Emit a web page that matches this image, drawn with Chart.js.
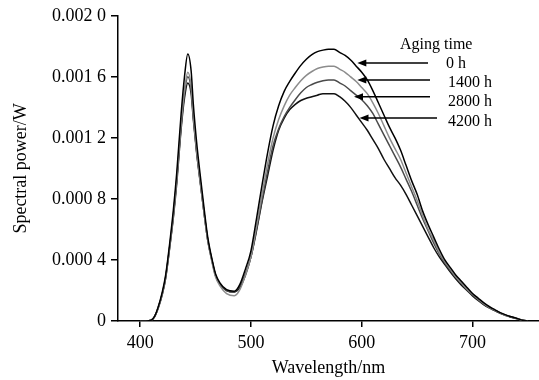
<!DOCTYPE html>
<html>
<head>
<meta charset="utf-8">
<script src="https://cdn.jsdelivr.net/npm/chart.js@4.4.1/dist/chart.umd.min.js"></script>
<style>
  html, body { margin: 0; padding: 0; background: #fff; }
  #wrap { width: 539px; height: 380px; }
</style>
</head>
<body>
<div id="wrap"><canvas id="spectrum" width="539" height="380"></canvas></div>
<script>
// Wavelength grid (nm), denser over the blue peak
const wavelength = [400, 405, 410, 413, 416, 420, 423, 427, 430, 433, 437, 440,
  443, 446, 448, 451, 454, 458, 461, 465, 468, 472, 478, 485,
  490, 495, 500, 505, 510, 515, 520, 525, 530, 535, 540, 545, 550, 555, 560,
  565, 570, 575, 580, 585, 590, 595, 600, 605, 610, 615, 620, 625, 630, 635,
  640, 645, 650, 655, 660, 665, 670, 675, 680, 685, 690, 695, 700, 705, 710,
  715, 720, 725, 730, 735, 740, 745, 750];

// Spectral power, in units of 1e-4 W
const power0h = [0, 0, 0.05, 0.3, 0.85, 1.9, 3.0, 5.3, 7.3, 9.7, 13.6, 16.0,
  17.5, 16.4, 14.2, 11.7, 9.7, 7.2, 5.5, 4.0, 3.1, 2.5, 2.05, 1.95,
  2.4, 3.4, 4.6, 6.7, 8.9, 11.0, 12.8, 14.1, 15.05, 15.7, 16.25, 16.75, 17.15, 17.45, 17.65,
  17.75, 17.8, 17.8, 17.6, 17.4, 17.1, 16.7, 16.3, 15.8, 15.1, 14.3, 13.5, 12.7, 12.0, 11.2,
  10.2, 9.2, 8.3, 7.2, 6.3, 5.5, 4.7, 4.0, 3.5, 3.0, 2.6, 2.2, 1.8, 1.5, 1.2,
  0.95, 0.75, 0.55, 0.4, 0.28, 0.17, 0.05, 0];

const power1400h = [0, 0, 0.05, 0.28, 0.8, 1.8, 2.9, 5.1, 7.0, 9.3, 13.0, 15.1,
  16.3, 15.4, 13.5, 11.2, 9.3, 6.9, 5.3, 3.8, 2.9, 2.3, 1.8, 1.65,
  2.05, 3.0, 4.2, 6.2, 8.3, 10.3, 12.0, 13.2, 14.1, 14.8, 15.3, 15.75, 16.1, 16.35, 16.55,
  16.65, 16.7, 16.7, 16.5, 16.3, 16.0, 15.7, 15.3, 14.9, 14.3, 13.6, 12.8, 12.0, 11.3, 10.6,
  9.7, 8.8, 7.9, 6.9, 6.0, 5.3, 4.5, 3.9, 3.4, 2.9, 2.5, 2.1, 1.75, 1.45, 1.15,
  0.9, 0.72, 0.53, 0.38, 0.27, 0.16, 0.05, 0];

const power2800h = [0, 0, 0.05, 0.28, 0.8, 1.8, 2.85, 5.05, 6.9, 9.2, 12.8, 14.9,
  16.0, 15.2, 13.4, 11.1, 9.3, 6.9, 5.3, 3.9, 3.0, 2.4, 2.0, 1.9,
  2.3, 3.1, 4.2, 6.0, 7.9, 9.8, 11.5, 12.6, 13.4, 14.0, 14.5, 14.95, 15.3, 15.5, 15.65,
  15.75, 15.8, 15.8, 15.6, 15.4, 15.1, 14.8, 14.5, 14.1, 13.6, 12.9, 12.2, 11.5, 10.8, 10.1,
  9.3, 8.5, 7.6, 6.7, 5.9, 5.1, 4.4, 3.8, 3.3, 2.85, 2.45, 2.05, 1.7, 1.4, 1.1,
  0.88, 0.7, 0.52, 0.37, 0.26, 0.16, 0.05, 0];

const power4200h = [0, 0, 0.05, 0.27, 0.78, 1.75, 2.8, 5.0, 6.8, 9.0, 12.6, 14.6,
  15.6, 14.9, 13.2, 11.0, 9.2, 6.9, 5.3, 3.9, 3.0, 2.4, 2.0, 1.9,
  2.2, 3.0, 4.2, 5.9, 7.8, 9.5, 11.2, 12.5, 13.3, 13.85, 14.2, 14.45, 14.6, 14.7, 14.8,
  14.9, 14.9, 14.9, 14.7, 14.4, 14.0, 13.5, 13.0, 12.5, 11.9, 11.3, 10.6, 10.0, 9.4, 8.9,
  8.3, 7.6, 6.9, 6.2, 5.5, 4.8, 4.2, 3.7, 3.2, 2.75, 2.35, 2.0, 1.65, 1.35, 1.08,
  0.86, 0.68, 0.5, 0.36, 0.25, 0.15, 0.05, 0];

const seriesNames = ['0 h', '1400 h', '2800 h', '4200 h'];
const seriesColors = ['#000000', '#8c8c8c', '#4a4a4a', '#111111'];
const seriesData = [power0h, power1400h, power2800h, power4200h];

const xTicks = [400, 500, 600, 700];
const yTicks = [0, 4, 8, 12, 16, 20];
const yTickLabels = ['0', '0.000 4', '0.000 8', '0.001 2', '0.001 6', '0.002 0'];

// Legend arrows: tip position in data coords (wavelength, power)
const arrowTipX = [596, 596, 593, 598];
const arrowTipY = [16.9, 15.8, 14.7, 13.3];

const serif = '"Liberation Serif", "Times New Roman", serif';

const legendPlugin = {
  id: 'agingLegend',
  afterDraw(chart) {
    const ctx = chart.ctx;
    const xs = chart.scales.x, ys = chart.scales.y;
    ctx.save();
    ctx.fillStyle = '#000';
    ctx.strokeStyle = '#000';
    ctx.textBaseline = 'middle';
    ctx.font = '16px ' + serif;
    ctx.textAlign = 'left';
    ctx.fillText('Aging time', 400, 45);
    const labelX = [446, 448, 448, 448];
    const labelY = [64, 83, 102, 122];
    const tailX = [428, 430, 430, 437];
    seriesNames.forEach((name, i) => {
      ctx.fillText(name, labelX[i], labelY[i]);
      const tipX = xs.getPixelForValue(arrowTipX[i]);
      const y = ys.getPixelForValue(arrowTipY[i]);
      ctx.lineWidth = 1.5;
      ctx.beginPath();
      ctx.moveTo(tailX[i], y);
      ctx.lineTo(tipX + 6, y);
      ctx.stroke();
      ctx.beginPath();
      ctx.moveTo(tipX, y);
      ctx.lineTo(tipX + 9, y - 3.5);
      ctx.lineTo(tipX + 9, y + 3.5);
      ctx.closePath();
      ctx.fill();
    });
    ctx.restore();
  }
};

new Chart(document.getElementById('spectrum'), {
  type: 'line',
  data: {
    datasets: seriesData.map((vals, i) => ({
      label: seriesNames[i],
      data: wavelength.map((w, j) => ({ x: w, y: vals[j] })),
      borderColor: seriesColors[i],
      borderWidth: 1.5,
      pointRadius: 0,
      fill: false,
      cubicInterpolationMode: 'monotone'
    }))
  },
  options: {
    responsive: false,
    animation: false,
    layout: { padding: { top: 15, right: 0, left: 0, bottom: 0 } },
    plugins: {
      legend: { display: false },
      tooltip: { enabled: false }
    },
    scales: {
      x: {
        type: 'linear',
        min: 380,
        max: 760,
        afterBuildTicks: s => { s.ticks = xTicks.map(v => ({ value: v })); },
        afterFit: s => { s.height = 59; },
        ticks: { color: '#000', font: { family: serif, size: 18 }, padding: 5, maxRotation: 0 },
        grid: { drawOnChartArea: false, tickLength: 6, color: '#000', lineWidth: 1.5 },
        border: { color: '#000', width: 1.5 },
        title: { display: true, text: 'Wavelength/nm', color: '#000', font: { family: serif, size: 18 }, padding: { top: 0, bottom: 1 } }
      },
      y: {
        min: 0,
        max: 20,
        afterBuildTicks: s => { s.ticks = yTicks.map(v => ({ value: v })); },
        afterFit: s => { s.width = 118; },
        ticks: {
          color: '#000',
          font: { family: serif, size: 18 },
          padding: 5,
          callback: v => yTickLabels[yTicks.indexOf(v)]
        },
        grid: { drawOnChartArea: false, tickLength: 7, color: '#000', lineWidth: 1.5 },
        border: { color: '#000', width: 1.5 },
        title: { display: true, text: 'Spectral power/W', color: '#000', font: { family: serif, size: 18 }, padding: { top: 10, bottom: 0 } }
      }
    }
  },
  plugins: [legendPlugin]
});
</script>
</body>
</html>
